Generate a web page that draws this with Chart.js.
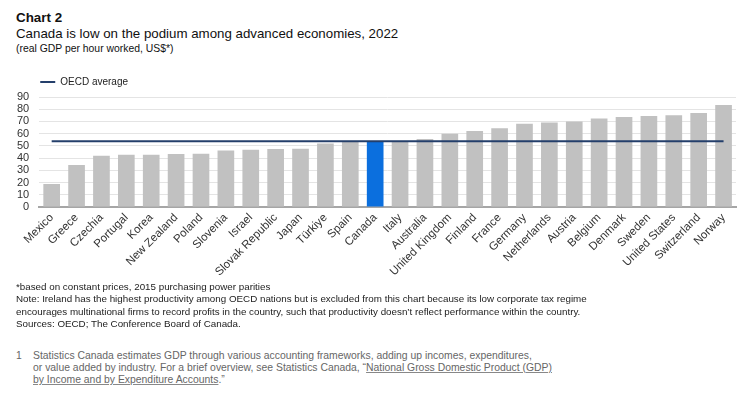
<!DOCTYPE html>
<html>
<head>
<meta charset="utf-8">
<script src="https://cdn.jsdelivr.net/npm/chart.js@4/dist/chart.umd.min.js"></script>
<style>
  html, body { margin: 0; padding: 0; background: #fff; }
  body { width: 749px; height: 399px; position: relative; overflow: hidden;
         font-family: "Liberation Sans", Arial, Helvetica, sans-serif; color: #111; }
  .abs { position: absolute; left: 16px; white-space: nowrap; }
  #kicker { top: 10px; font-size: 13.4px; font-weight: bold; line-height: 16px; }
  #title { top: 26px; font-size: 13.3px; line-height: 16px; }
  #sub { top: 42px; font-size: 10.4px; line-height: 13px; }
  #chartBox { position: absolute; left: 0; top: 76px; width: 749px; height: 209px; }
  #notes { top: 281px; font-size: 9.8px; line-height: 12.4px; color: #222; }
  #fn { top: 350px; font-size: 10.4px; line-height: 12px; color: #666; }
  #fn .num { position: absolute; left: 0; top: 0; }
  #fn .txt { position: absolute; left: 17px; top: 0; }
  #fn u { text-decoration-color: #888; }
</style>
</head>
<body>
<div id="kicker" class="abs">Chart 2</div>
<div id="title" class="abs">Canada is low on the podium among advanced economies, 2022</div>
<div id="sub" class="abs">(real GDP per hour worked, US$*)</div>
<div id="chartBox"><canvas id="chart" width="749" height="209"></canvas></div>
<div id="notes" class="abs">*based on constant prices, 2015 purchasing power parities<br>
Note: Ireland has the highest productivity among OECD nations but is excluded from this chart because its low corporate tax regime<br>
encourages multinational firms to record profits in the country, such that productivity doesn’t reflect performance within the country.<br>
Sources: OECD; The Conference Board of Canada.</div>
<div id="fn" class="abs"><span class="num">1</span><span class="txt">Statistics Canada estimates GDP through various accounting frameworks, adding up incomes, expenditures,<br>
or value added by industry. For a brief overview, see Statistics Canada, “<u>National Gross Domestic Product (GDP)</u><br>
<u>by Income and by Expenditure Accounts</u>.”</span></div>
<script>
// real GDP per hour worked, 2022 (US$, constant prices, 2015 PPP)
const countries = ['Mexico', 'Greece', 'Czechia', 'Portugal', 'Korea', 'New Zealand', 'Poland',
  'Slovenia', 'Israel', 'Slovak Republic', 'Japan', 'Türkiye', 'Spain', 'Canada', 'Italy',
  'Australia', 'United Kingdom', 'Finland', 'France', 'Germany', 'Netherlands', 'Austria',
  'Belgium', 'Denmark', 'Sweden', 'United States', 'Switzerland', 'Norway'];
const gdpPerHour = [18.8, 34.3, 42.0, 42.8, 42.8, 43.4, 43.6,
  46.1, 46.9, 47.4, 47.7, 52.0, 53.1, 53.5, 53.2,
  55.6, 59.9, 62.1, 64.5, 68.0, 69.1, 69.9,
  72.4, 73.7, 74.5, 75.1, 77.0, 83.5];
const oecdAverage = 53.7;
const yTicks = [0, 10, 20, 30, 40, 50, 60, 70, 80, 90];

const gray = '#c1c1c1';
const blue = '#0b6fde';
const navy = '#243f6b';

new Chart(document.getElementById('chart'), {
  type: 'bar',
  data: {
    labels: countries,
    datasets: [{
      type: 'line',
      label: 'OECD average',
      data: [
        { x: countries[0], y: oecdAverage },
        { x: countries[countries.length - 1], y: oecdAverage }
      ],
      borderColor: navy,
      backgroundColor: navy,
      borderWidth: 2,
      pointRadius: 0,
      fill: false
    }, {
      label: 'GDP per hour worked',
      data: gdpPerHour,
      backgroundColor: countries.map(c => c === 'Canada' ? blue : gray),
      categoryPercentage: 1,
      barPercentage: 0.67
    }]
  },
  options: {
    responsive: false,
    animation: false,
    layout: { padding: { left: 7, right: 13, top: 0, bottom: 2 } },
    plugins: {
      tooltip: { enabled: false },
      legend: {
        position: 'top',
        align: 'start',
        fullSize: false,
        labels: {
          padding: 1,
          boxWidth: 15,
          boxHeight: 2,
          color: '#222',
          font: { family: '"Liberation Sans", Arial, sans-serif', size: 10 },
          filter: item => item.datasetIndex === 0,
          generateLabels: chart => Chart.defaults.plugins.legend.labels.generateLabels(chart)
            .map(item => Object.assign(item, { lineWidth: 0, fillStyle: navy }))
        }
      }
    },
    scales: {
      x: {
        grid: { display: false, drawTicks: false },
        border: { color: '#a6a6a6', width: 2 },
        ticks: {
          autoSkip: false,
          minRotation: 45,
          maxRotation: 45,
          padding: 4,
          color: '#333',
          font: { family: '"Liberation Sans", Arial, sans-serif', size: 11.5 }
        }
      },
      y: {
        min: 0,
        max: 90,
        afterBuildTicks: axis => { axis.ticks = yTicks.map(v => ({ value: v })); },
        grid: { color: '#e4e4e4', drawTicks: false },
        border: { display: false },
        ticks: {
          autoSkip: false,
          padding: 10,
          color: '#333',
          font: { family: '"Liberation Sans", Arial, sans-serif', size: 11 }
        }
      }
    }
  }
});
</script>
</body>
</html>
